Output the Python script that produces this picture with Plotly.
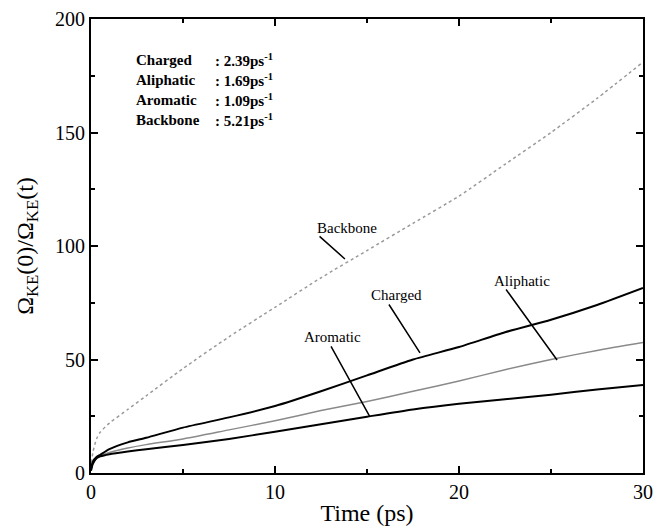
import plotly.graph_objects as go

time = [0, 0.1, 0.3, 0.5, 1, 2, 3, 5, 7.5, 10, 12.5, 15, 17.5, 20, 22.5, 25, 27.5, 30]
charged = [2, 5, 7, 8, 10.5, 13.5, 15.5, 20, 24.5, 29.5, 36, 43, 50, 55.5, 62, 67.5, 74, 81.5]
aliphatic = [1, 4, 6.5, 7.5, 9, 11, 12.5, 15, 19, 23, 27.5, 31.5, 36, 40.5, 45.5, 50, 54, 57.5]
aromatic = [1, 4, 6.5, 7.3, 8.3, 9.5, 10.5, 12.3, 15, 18.2, 21.5, 24.8, 28, 30.5, 32.5, 34.5, 36.8, 38.8]
backbone = [2, 9, 15, 18, 22, 28, 34, 46, 60, 73, 86, 98, 110, 122, 136, 150, 165, 181]

rate_names = ["Charged", "Aliphatic", "Aromatic", "Backbone"]
rate_values = ["2.39", "1.69", "1.09", "5.21"]

FONT = "Liberation Serif"

fig = go.Figure()
fig.add_trace(go.Scatter(x=time, y=backbone, mode="lines", line=dict(color="#9a9a9a", width=1.5, dash="3px,3px", shape="spline", smoothing=0.6)))
fig.add_trace(go.Scatter(x=time, y=aliphatic, mode="lines", line=dict(color="#8a8a8a", width=1.5, shape="spline", smoothing=0.6)))
fig.add_trace(go.Scatter(x=time, y=charged, mode="lines", line=dict(color="black", width=2, shape="spline", smoothing=0.6)))
fig.add_trace(go.Scatter(x=time, y=aromatic, mode="lines", line=dict(color="black", width=2, shape="spline", smoothing=0.6)))

annotations = []
labels = [
    ("Backbone", 13.9, 107.9, 12.34, 104.8, 13.8, 94.3),
    ("Charged", 16.6, 78.4, 16.14, 74.9, 17.88, 52.9),
    ("Aliphatic", 23.4, 84.6, 22.5, 81.5, 25.33, 49.8),
    ("Aromatic", 13.1, 59.9, 13.0, 56.4, 15.16, 24.7),
]
for txt, tx, ty, sx, sy, ex, ey in labels:
    annotations.append(dict(x=tx, y=ty, text=txt, showarrow=False, xanchor="center", yanchor="middle",
                            font=dict(family=FONT, size=15, color="black")))
    annotations.append(dict(x=ex, y=ey, ax=sx, ay=sy, axref="x", ayref="y", xref="x", yref="y",
                            text="", showarrow=True, arrowhead=0, arrowwidth=1.5, arrowcolor="black"))

rows_y = [0.910, 0.866, 0.822, 0.778]
for name, val, yy in zip(rate_names, rate_values, rows_y):
    annotations.append(dict(x=0.078, y=yy, xref="paper", yref="paper", text="<b>" + name + "</b>",
                            showarrow=False, xanchor="left", yanchor="middle",
                            font=dict(family=FONT, size=15, color="black")))
    annotations.append(dict(x=0.221, y=yy, xref="paper", yref="paper",
                            text="<b>: " + val + "ps<sup>-1</sup></b>",
                            showarrow=False, xanchor="left", yanchor="middle",
                            font=dict(family=FONT, size=15, color="black")))

axis_common = dict(showgrid=False, zeroline=False, showline=True, linecolor="black", linewidth=2,
                   mirror="ticks", ticks="inside", ticklen=7, tickwidth=1.5, tickcolor="black",
                   automargin=False,
                   tickfont=dict(family=FONT, size=20, color="black"))

fig.update_layout(
    width=655, height=526,
    margin=dict(l=91, r=12, t=19, b=53),
    paper_bgcolor="white", plot_bgcolor="white",
    showlegend=False,
    font=dict(family=FONT),
    annotations=annotations,
    xaxis=dict(range=[0, 30], tickvals=[0, 10, 20, 30],
               minor=dict(tickvals=[5, 15, 25], ticks="inside", ticklen=4, tickwidth=1.5, tickcolor="black"),
               title=dict(text="Time (ps)", font=dict(family=FONT, size=24, color="black")),
               **axis_common),
    yaxis=dict(range=[0, 200], tickvals=[0, 50, 100, 150, 200],
               minor=dict(tickvals=[25, 75, 125, 175], ticks="inside", ticklen=4, tickwidth=1.5, tickcolor="black"),
               title=dict(text="Ω<sub>KE</sub>(0)/Ω<sub>KE</sub>(t)", font=dict(family=FONT, size=24, color="black")),
               **axis_common),
)

fig.write_html("out.html")
